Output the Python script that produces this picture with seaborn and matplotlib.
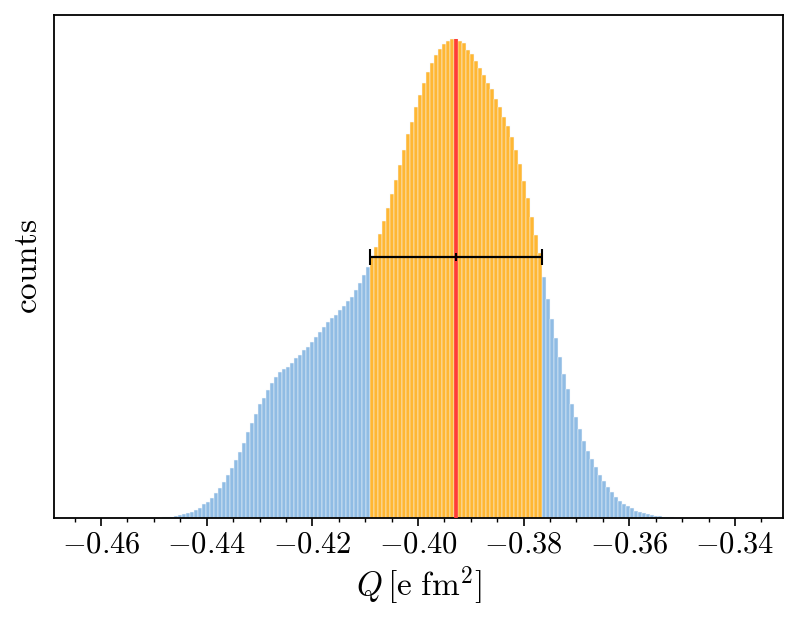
import numpy as np
import pandas as pd
import matplotlib
matplotlib.use("Agg")
import matplotlib.pyplot as plt
import seaborn as sns
from matplotlib.ticker import MultipleLocator

# ---------------- data ----------------
bin_start = -0.46283
bin_width = 0.000757
n_bins = 166

counts = [
    # bins 0-19
    1, 0, 0, 0, 0, 0, 1, 0, 1, 1, 1, 1, 2, 2, 2, 3, 3, 4, 5, 6,
    # bins 20-53
    7, 13, 20, 27, 37, 47, 60, 80, 103, 137, 163, 200, 250, 297, 363, 430, 503,
    580, 663, 747, 857, 950, 1040, 1137, 1203, 1280, 1350, 1407, 1457, 1493,
    1507, 1553, 1600, 1630,
    # bins 54-70
    1680, 1713, 1763, 1807, 1857, 1907, 1963, 1997, 2030, 2080, 2123, 2170,
    2213, 2280, 2353, 2430, 2510,
    # bins 71-113
    2607, 2707, 2837, 2970, 3097, 3243, 3380, 3530, 3680, 3837, 3960, 4107,
    4227, 4347, 4463, 4550, 4630, 4693, 4740, 4773, 4787, 4790, 4773, 4747,
    4680, 4637, 4570, 4497, 4430, 4353, 4290, 4187, 4107, 4013, 3920, 3807,
    3680, 3537, 3370, 3197, 3013, 2830, 2647,
    # bins 114-147
    2410, 2193, 1990, 1797, 1613, 1443, 1290, 1137, 1010, 887, 773, 670, 587,
    507, 433, 367, 313, 260, 213, 173, 140, 120, 97, 73, 60, 47, 37, 30, 23,
    17, 13, 10, 7, 5,
    # bins 148-165
    4, 3, 3, 2, 2, 1, 1, 1, 1, 1, 0, 0, 0, 1, 0, 0, 0, 1,
]

q_median = -0.39274
q_low = -0.40908
q_high = -0.37652
errbar_level = 2613

x_ticks = [-0.46, -0.44, -0.42, -0.40, -0.38, -0.36, -0.34]

# ---------------- style ----------------
plt.rcParams["mathtext.fontset"] = "cm"
plt.rcParams["font.family"] = "serif"
plt.rcParams["font.serif"] = ["cmr10"]
plt.rcParams["axes.formatter.use_mathtext"] = True
plt.rcParams["axes.unicode_minus"] = True

blue = "#90BCE4"
orange = "#FFB733"
red = "#FF3B3B"
edge = "#F4F8FC"

edges = bin_start + bin_width * np.arange(n_bins + 1)
centers = edges[:-1] + bin_width / 2
counts = np.array(counts, dtype=float)
inside = (centers > q_low) & (centers < q_high)

df = pd.DataFrame({"Q": centers, "counts": counts})
bin_list = [float(e) for e in edges]

fig, ax = plt.subplots(figsize=(7.98, 6.23), dpi=100)
fig.subplots_adjust(left=0.0677, right=0.9812, bottom=0.1685, top=0.9759)

sns.histplot(data=df[~inside], x="Q", weights="counts", bins=bin_list,
             color=blue, alpha=1, edgecolor=edge, linewidth=0.35, ax=ax)
sns.histplot(data=df[inside], x="Q", weights="counts", bins=bin_list,
             color=orange, alpha=1, edgecolor=edge, linewidth=0.35, ax=ax)

peak = counts.max()
ax.vlines(q_median, 0, peak, color=red, lw=2.6, zorder=3)
ax.errorbar([q_median], [errbar_level],
            xerr=[[q_median - q_low], [q_high - q_median]],
            fmt="|", color="black", ms=6, mew=1.5, capsize=6,
            elinewidth=1.6, capthick=1.6, zorder=4)

ax.set_xlim(-0.4689, -0.3309)
ax.set_ylim(0, peak * 1.05)
ax.set_yticks([])
ax.set_xticks(x_ticks)
ax.xaxis.set_minor_locator(MultipleLocator(0.005))
ax.tick_params(axis="x", which="major", length=5.5, width=1.2, labelsize=22, pad=4)
ax.tick_params(axis="x", which="minor", length=3.2, width=1.0)
for s in ax.spines.values():
    s.set_linewidth(1.3)

ax.set_xlabel(r"$Q\,[\mathrm{e\ fm}^2]$", fontsize=24, labelpad=4)
ax.set_ylabel(r"$\mathrm{counts}$", fontsize=24, labelpad=8)

fig.savefig("out.png", dpi=100)
